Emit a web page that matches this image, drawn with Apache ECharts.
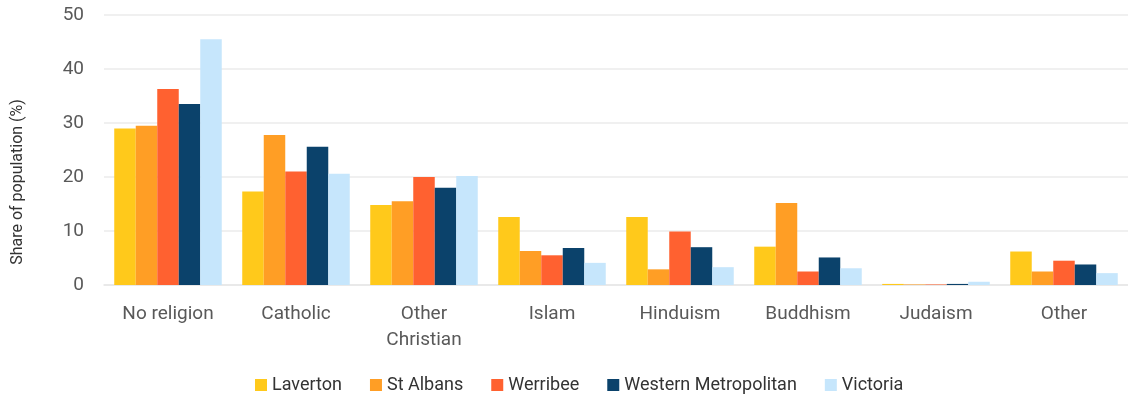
<!DOCTYPE html>
<html>
<head>
<meta charset="utf-8">
<script src="https://cdn.jsdelivr.net/npm/echarts@6/dist/echarts.min.js"></script>
<style>
  html, body { margin: 0; padding: 0; background: #fff; }
  #chart { width: 1128px; height: 401px; }
</style>
</head>
<body>
<div id="chart"></div>
<script>
const categories = ['No religion', 'Catholic', 'Other\nChristian', 'Islam', 'Hinduism', 'Buddhism', 'Judaism', 'Other']
const laverton = [29.0, 17.3, 14.8, 12.6, 12.6, 7.1, 0.2, 6.2]
const stAlbans = [29.5, 27.8, 15.5, 6.3, 2.9, 15.2, 0.1, 2.5]
const werribee = [36.3, 21.0, 20.0, 5.5, 9.9, 2.5, 0.1, 4.5]
const westernMetro = [33.5, 25.6, 18.0, 6.85, 7.0, 5.1, 0.2, 3.8]
const victoria = [45.5, 20.6, 20.2, 4.1, 3.3, 3.1, 0.6, 2.2]

const seriesDefs = [
  { name: 'Laverton', data: laverton, color: '#FFC91B' },
  { name: 'St Albans', data: stAlbans, color: '#FF9E25' },
  { name: 'Werribee', data: werribee, color: '#FF6130' },
  { name: 'Western Metropolitan', data: westernMetro, color: '#0B426B' },
  { name: 'Victoria', data: victoria, color: '#C6E6FC' }
]

const chart = echarts.init(document.getElementById('chart'))
chart.setOption({
  animation: false,
  textStyle: { fontFamily: 'Roboto' },
  grid: { left: 104, right: 0, top: 15, bottom: 116 },
  legend: {
    bottom: 2,
    left: 250,
    itemWidth: 12,
    itemHeight: 12,
    itemGap: 28,
    icon: 'rect',
    textStyle: { fontSize: 18, color: '#333', fontFamily: 'Roboto' }
  },
  xAxis: {
    type: 'category',
    data: categories,
    axisLine: { lineStyle: { color: '#e6e6e6', width: 1.5 } },
    axisTick: { show: false },
    axisLabel: { fontSize: 19, color: '#595959', margin: 16, lineHeight: 26 }
  },
  yAxis: {
    type: 'value',
    min: 0,
    max: 50,
    interval: 10,
    name: 'Share of population (%)',
    nameLocation: 'middle',
    nameGap: 78,
    nameTextStyle: { fontSize: 16, color: '#333', padding: [0, 64, 0, 0] },
    axisLabel: { fontSize: 19, color: '#595959', margin: 20 },
    splitLine: { lineStyle: { color: '#ebebeb', width: 1.5 } }
  },
  series: seriesDefs.map(s => ({
    name: s.name,
    type: 'bar',
    data: s.data,
    barGap: '0%',
    barCategoryGap: '16%',
    itemStyle: { color: s.color }
  }))
})
</script>
</body>
</html>
